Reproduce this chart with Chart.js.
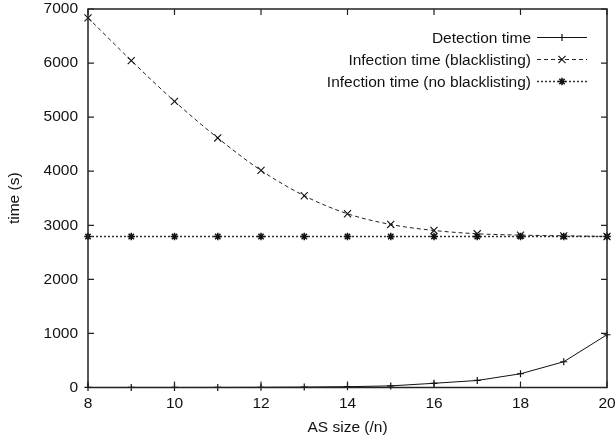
<!DOCTYPE html>
<html><head><meta charset="utf-8">
<script src="https://cdn.jsdelivr.net/npm/chart.js@4/dist/chart.umd.min.js"></script>
<style>html,body{margin:0;padding:0;background:#fff}#wrap{width:616px;height:443px}</style>
</head><body><div id="wrap"><canvas id="c" width="616" height="443"></canvas></div>
<script>
const asSizes = [8, 9, 10, 11, 12, 13, 14, 15, 16, 17, 18, 19, 20];
const detectionTime = [0.5, 1, 1, 2, 4, 8, 15, 30, 78, 130, 254, 476, 976];
const infectionBlacklisting = [6837, 6046, 5293, 4615, 4015, 3546, 3213, 3015, 2904, 2843, 2818, 2805, 2793];
const infectionNoBlacklisting = [2793, 2793, 2793, 2793, 2793, 2793, 2793, 2793, 2793, 2793, 2793, 2793, 2793];
const seriesLabels = ['Detection time', 'Infection time (blacklisting)', 'Infection time (no blacklisting)'];
const xTickValues = [8, 10, 12, 14, 16, 18, 20];
const yTickValues = [0, 1000, 2000, 3000, 4000, 5000, 6000, 7000];
const xTitle = 'AS size (/n)';
const yTitle = 'time (s)';

const FONT = '"Liberation Sans", Arial, sans-serif';
const FS = 15.5;
const INK = '#111';

function pts(vals) { return asSizes.map((x, i) => ({x: x, y: vals[i]})); }

const frameTicks = {
  id: 'frameTicks',
  afterDraw(chart) {
    const {ctx, chartArea: a, scales} = chart;
    ctx.save();
    ctx.strokeStyle = '#222';
    ctx.lineWidth = 1.5;
    ctx.strokeRect(a.left, a.top, a.right - a.left, a.bottom - a.top);
    ctx.lineWidth = 1.2;
    ctx.beginPath();
    xTickValues.forEach(v => {
      const px = scales.x.getPixelForValue(v);
      ctx.moveTo(px, a.bottom); ctx.lineTo(px, a.bottom - 6);
      ctx.moveTo(px, a.top); ctx.lineTo(px, a.top + 6);
    });
    yTickValues.forEach(v => {
      const py = scales.y.getPixelForValue(v);
      ctx.moveTo(a.left, py); ctx.lineTo(a.left + 6, py);
      ctx.moveTo(a.right, py); ctx.lineTo(a.right - 6, py);
    });
    ctx.stroke();
    ctx.restore();
  }
};

const keyLegend = {
  id: 'keyLegend',
  afterDraw(chart) {
    const ctx = chart.ctx;
    const textRight = 531, x0 = 537, x1 = 587;
    ctx.save();
    ctx.font = FS + 'px ' + FONT;
    ctx.fillStyle = INK;
    ctx.textAlign = 'right';
    ctx.textBaseline = 'alphabetic';
    chart.data.datasets.forEach((ds, i) => {
      const yb = 43.3 + i * 22;
      const ym = yb - 5.8;
      ctx.fillText(ds.label, textRight, yb);
      ctx.save();
      ctx.strokeStyle = ds.borderColor;
      ctx.lineWidth = ds.borderWidth;
      ctx.setLineDash(ds.borderDash || []);
      ctx.beginPath();
      ctx.moveTo(x0, ym); ctx.lineTo(x1, ym);
      ctx.stroke();
      ctx.restore();
      ctx.save();
      ctx.strokeStyle = ds.pointBorderColor;
      ctx.fillStyle = ds.pointBorderColor;
      ctx.lineWidth = ds.pointBorderWidth;
      Chart.helpers.drawPoint(ctx, {pointStyle: ds.pointStyle, radius: ds.pointRadius, rotation: 0, borderWidth: ds.pointBorderWidth}, (x0 + x1) / 2, ym);
      ctx.restore();
    });
    ctx.restore();
  }
};

new Chart(document.getElementById('c'), {
  type: 'line',
  data: {
    datasets: [
      {
        label: seriesLabels[0], data: pts(detectionTime),
        borderColor: '#111', borderWidth: 1, borderDash: [],
        pointStyle: 'cross', pointRadius: 3.5, pointBorderColor: '#111', pointBorderWidth: 1.2,
        pointBackgroundColor: '#111', fill: false, clip: false
      },
      {
        label: seriesLabels[1], data: pts(infectionBlacklisting),
        borderColor: '#222', borderWidth: 1, borderDash: [4, 3],
        cubicInterpolationMode: 'monotone',
        pointStyle: 'crossRot', pointRadius: 5, pointBorderColor: '#111', pointBorderWidth: 1.1,
        pointBackgroundColor: '#111', fill: false, clip: false
      },
      {
        label: seriesLabels[2], data: pts(infectionNoBlacklisting),
        borderColor: '#333', borderWidth: 1.3, borderDash: [2, 2],
        pointStyle: 'star', pointRadius: 3.8, pointBorderColor: '#111', pointBorderWidth: 1.5,
        pointBackgroundColor: '#111', fill: false, clip: false
      }
    ]
  },
  options: {
    responsive: false,
    animation: false,
    devicePixelRatio: 1,
    layout: {padding: {top: 9, right: 9, left: 0, bottom: 0}},
    plugins: {legend: {display: false}, tooltip: {enabled: false}},
    scales: {
      x: {
        type: 'linear', min: 8, max: 20,
        grid: {display: false, drawTicks: false, tickLength: 0}, border: {display: false},
        afterBuildTicks: s => { s.ticks = xTickValues.map(v => ({value: v})); },
        afterFit: s => { s.height = 55.5; s.paddingLeft = 0; s.paddingRight = 0; },
        ticks: {color: INK, font: {family: FONT, size: FS}, padding: 7, maxRotation: 0, autoSkip: false,
                callback: v => String(v)},
        title: {display: true, text: xTitle, color: INK, font: {family: FONT, size: FS}, padding: {top: 0, bottom: 6}}
      },
      y: {
        type: 'linear', min: 0, max: 7000,
        grid: {display: false, drawTicks: false, tickLength: 0}, border: {display: false},
        afterBuildTicks: s => { s.ticks = yTickValues.map(v => ({value: v})); },
        afterFit: s => { s.width = 88; s.paddingTop = 0; s.paddingBottom = 0; },
        ticks: {color: INK, font: {family: FONT, size: FS}, padding: 10, autoSkip: false,
                callback: v => String(v)},
        title: {display: true, text: yTitle, color: INK, font: {family: FONT, size: FS}, padding: {top: 5, bottom: 0}}
      }
    }
  },
  plugins: [frameTicks, keyLegend]
});
</script>
</body></html>
